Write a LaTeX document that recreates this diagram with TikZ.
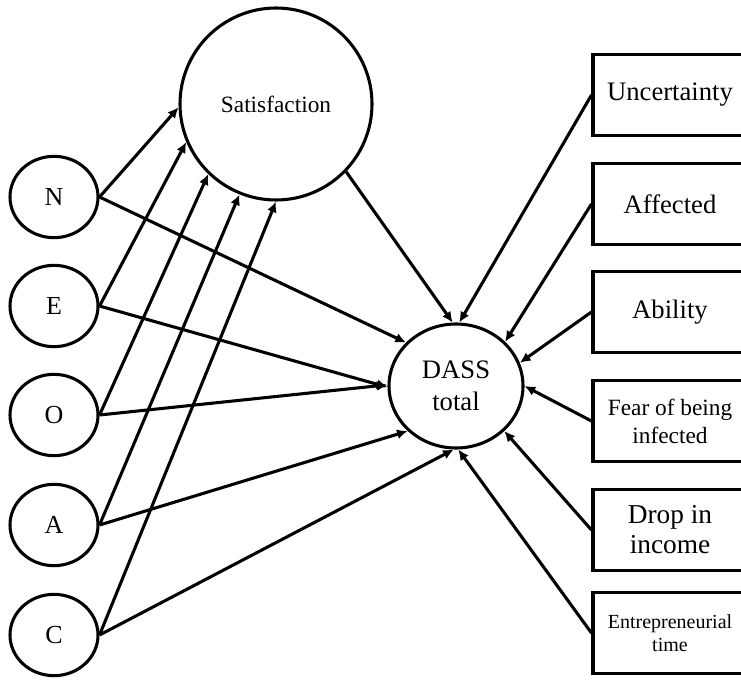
\documentclass[tikz,border=0pt]{standalone}
\usepackage{fontspec}
\setmainfont{Liberation Serif}
\usetikzlibrary{shapes.geometric,arrows.meta}
\begin{document}
\begin{tikzpicture}[x=0.75pt,y=-0.75pt,
  ln/.style={line width=2.3pt},
  arr/.style={ln,-{Latex[length=8pt,width=7.5pt]}},
  trait/.style={ellipse,draw,line width=2.3pt,minimum width=66pt,minimum height=61pt,inner sep=0pt,font=\fontsize{19.5}{22}\selectfont},
  factor/.style={rectangle,draw,line width=2.3pt,minimum width=115.5pt,minimum height=60.5pt,inner sep=0pt,align=center},
]
\useasboundingbox (0,0) rectangle (741,681);
\clip (0,0) rectangle (741,681);
\node[circle,draw,line width=2.3pt,minimum size=144pt,inner sep=0pt,font=\fontsize{17.5}{20}\selectfont] (sat) at (276,104) {Satisfaction};
\node[ellipse,draw,line width=2.3pt,minimum width=100.5pt,minimum height=93pt,inner sep=0pt,align=center,font=\fontsize{20}{24}\selectfont] (dass) at (456,386) {DASS\\total};
\node[trait] (n) at (54,197) {N};
\node[trait] (e) at (54,306) {E};
\node[trait] (o) at (54,415) {O};
\node[trait] (a) at (54,525) {A};
\node[trait] (c) at (54,635) {C};
\node[factor,font=\fontsize{20}{23}\selectfont] (unc) at (670,95) {Uncertainty};
\node[factor,font=\fontsize{20}{23}\selectfont] (aff) at (670,204) {Affected};
\node[factor,font=\fontsize{20}{23}\selectfont] (abl) at (670,312) {Ability};
\node[factor,font=\fontsize{17.5}{21}\selectfont] (fear) at (670,421) {Fear of being\\infected};
\node[factor,font=\fontsize{20.5}{22.5}\selectfont] (drop) at (670,530) {Drop in\\income};
\node[factor,font=\fontsize{15}{17}\selectfont] (ent) at (670,633) {Entrepreneurial\\time};
% traits to satisfaction
\draw[arr] (n.east) -- (sat.182);
\draw[arr] (e.east) -- (sat.203);
\draw[arr] (o.east) -- (sat.226);
\draw[arr] (a.east) -- (sat.248);
\draw[arr] (c.east) -- (sat.270);
% traits to DASS
\draw[arr] (n.east) -- (dass.139);
\draw[arr] (e.east) -- (dass.181);
\draw[arr] (o.east) -- (dass.179);
\draw[arr] (a.east) -- (dass.-137);
\draw[arr] (c.east) -- (dass.-92);
% satisfaction to DASS
\draw[arr] (sat.-44) -- (dass.93);
% factors to DASS
\draw[arr] (unc.west) -- (dass.87);
\draw[arr] (aff.west) -- (dass.42);
\draw[arr] (abl.west) -- (dass.20);
\draw[arr] (fear.west) -- (dass.0);
\draw[arr] (drop.west) -- (dass.-43);
\draw[arr] (ent.west) -- (dass.-88);
\end{tikzpicture}
\end{document}
